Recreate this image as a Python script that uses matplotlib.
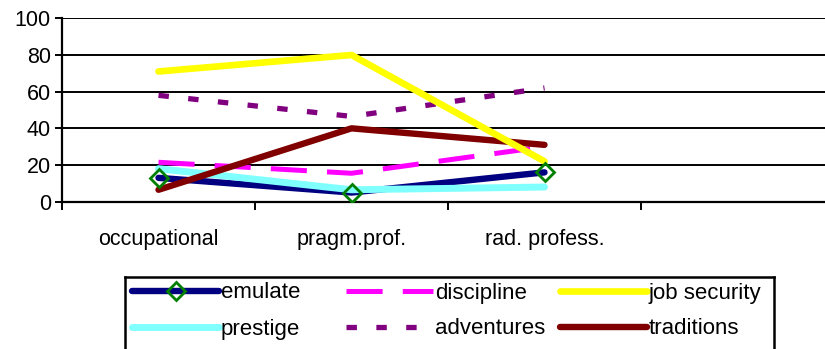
import matplotlib
matplotlib.use("Agg")
import matplotlib.pyplot as plt

plt.rcParams['font.family'] = ['Liberation Sans', 'DejaVu Sans']
plt.rcParams['lines.scale_dashes'] = False

categories = ["occupational", "pragm.prof.", "rad. profess."]
series_names = ["emulate", "discipline", "job security", "prestige", "adventures", "traditions"]
emulate = [13, 5, 16]
discipline = [21.5, 15.5, 30]
job_security = [71, 80, 22]
prestige = [18, 6.5, 8]
adventures = [58, 46.5, 62]
traditions = [6.5, 40, 31]

fig = plt.figure(figsize=(8.25, 3.49), dpi=100)
ax = fig.add_axes([62 / 825, 1 - 201.7 / 349, (834 - 62) / 825, 183.4 / 349])

x = list(range(len(categories)))

# colour, width, dash pattern, stacking order per series (in series_names order)
styles = [
    (emulate, "#000080", 4.6, "-", 3),
    (discipline, "#FF00FF", 3.6, (0, (26, 14.5)), 5),
    (job_security, "#FFFF00", 4.8, "-", 8),
    (prestige, "#80FFFF", 5.0, "-", 4),
    (adventures, "#800080", 3.8, (0, (7.5, 14)), 6),
    (traditions, "#800000", 4.6, "-", 7),
]
marker_kw = dict(marker="D", ms=9, mfc="none", mec="#008000", mew=2.0)

for vals, color, lw, ls, z in styles:
    ax.plot(x, vals, color=color, lw=lw, ls=ls,
            solid_capstyle="round", dash_capstyle="butt", zorder=z)

# emulate markers drawn above all lines
ax.plot(x, emulate, ls="none", zorder=20, **marker_kw)

ax.set_xlim(-0.5, 3.5)
ax.set_ylim(0, 100)
ax.set_yticks([0, 20, 40, 60, 80, 100])
ax.yaxis.grid(True, color="black", lw=1.4)
ax.set_axisbelow(True)

ax.set_xticks([-0.5, 0.5, 1.5, 2.5, 3.5])
ax.set_xticklabels([])
ax.set_xticks(x, minor=True)
ax.set_xticklabels(categories, minor=True)
ax.tick_params(axis="x", which="major", length=6, width=1.4, direction="out")
ax.tick_params(axis="x", which="minor", length=0, pad=20, labelsize=15.5)
ax.tick_params(axis="y", length=5, width=1.4, pad=3, labelsize=15.5)

for side in ("top", "right"):
    ax.spines[side].set_visible(False)
for side in ("left", "bottom"):
    ax.spines[side].set_linewidth(1.6)

# legend box with evenly spaced columns, laid out in pixel units
lax = fig.add_axes([125 / 825, 1 - 362 / 349, (774 - 125) / 825, 85 / 349])
lax.set_xlim(0, 649)
lax.set_ylim(85, 0)
lax.set_xticks([])
lax.set_yticks([])
for sp in lax.spines.values():
    sp.set_linewidth(1.8)

col_x = [7, 221, 435]
row_y = [14, 50]
handle_len = 87
for i, (name, (vals, color, lw, ls, z)) in enumerate(zip(series_names, styles)):
    cx = col_x[i % 3]
    ry = row_y[i // 3]
    lax.plot([cx, cx + handle_len], [ry, ry], color=color, lw=lw, ls=ls,
             solid_capstyle="round", dash_capstyle="butt")
    if name == "emulate":
        lax.plot([cx + handle_len / 2], [ry], **marker_kw)
    lax.text(cx + handle_len + 2, ry + 2, name, fontsize=16, va="center", ha="left")

fig.savefig("out.png", dpi=100)
